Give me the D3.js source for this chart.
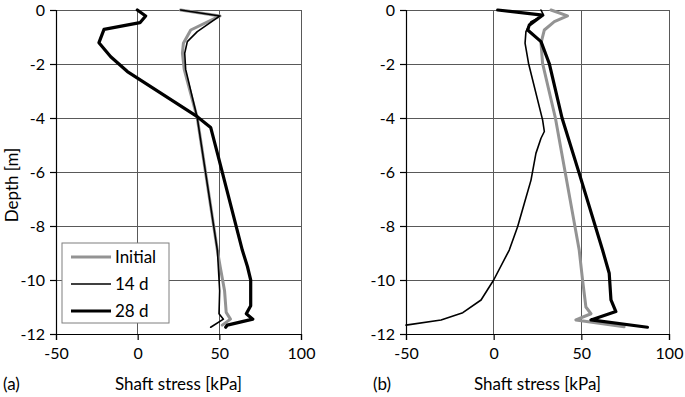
<!DOCTYPE html>
<html><head><meta charset="utf-8">
<script src="https://cdn.jsdelivr.net/npm/d3@7"></script>
<style>
html,body{margin:0;padding:0;background:#fff;}
text{font-family:Lato,"Open Sans",sans-serif;fill:#000;}
</style></head>
<body>
<svg id="chart" width="685" height="397"></svg>
<script>
// ---- data ----
const xTicks = [-50, 0, 50, 100];
const yTicks = [0, -2, -4, -6, -8, -10, -12];
const seriesNames = ["Initial", "14 d", "28 d"];

// Panel (a)
const aInitialStress = [26.3, 50.4, 32.5, 28.0, 27.4, 28.5, 36.5, 48.8, 50.5, 53.2, 54.2, 56.8, 51.8];
const aInitialDepth  = [0, -0.22, -0.74, -1.23, -1.6, -2.2, -4.0, -8.9, -9.5, -10.4, -11.2, -11.45, -11.67];
const a14Stress = [26.3, 50.4, 36.5, 30.4, 28.8, 29.4, 36.5, 48.8, 50.2, 49.8, 52.5, 44.7];
const a14Depth  = [0, -0.22, -0.8, -1.17, -1.6, -2.2, -4.0, -8.9, -10.4, -11.25, -11.45, -11.75];
const a28Stress = [-0.2, 4.9, 1.4, -20.6, -23.7, -16.5, -6.3, 36.5, 44.7, 48.8, 64.1, 67.2, 69.2, 69.2, 66.5, 70.5, 54.9, 53.9];
const a28Depth  = [0, -0.22, -0.47, -0.72, -1.21, -1.73, -2.28, -3.95, -4.35, -5.3, -8.9, -9.5, -10.0, -10.95, -11.25, -11.45, -11.67, -11.75];

// Panel (b)
const bInitialStress = [32.7, 42.1, 34.6, 28.9, 27.0, 27.9, 35.2, 48.8, 50.7, 52.6, 55.5, 46.9, 74.4];
const bInitialDepth  = [0, -0.22, -0.43, -0.74, -1.23, -1.98, -4.0, -8.9, -10.0, -11.0, -11.25, -11.48, -11.73];
const b14Stress = [27.0, 28.5, 21.3, 18.4, 17.9, 19.9, 27.9, 28.9, 27.0, 24.1, 21.3, 17.5, 13.7, 8.9, 0.0, -7.2, -17.6, -30.0, -50.0];
const b14Depth  = [0, -0.2, -0.43, -0.8, -1.23, -1.98, -4.07, -4.5, -4.75, -5.31, -6.3, -7.16, -8.02, -8.89, -10.0, -10.74, -11.21, -11.48, -11.67];
const b28Stress = [2.3, 27.9, 20.3, 19.4, 27.0, 31.7, 39.0, 48.8, 62.1, 65.9, 66.9, 69.7, 55.5, 87.7];
const b28Depth  = [0, -0.19, -0.56, -0.74, -1.17, -1.98, -4.0, -6.05, -8.89, -9.75, -10.74, -11.17, -11.48, -11.75];

// ---- layout ----
const svg = d3.select("#chart");
const yRange = [10, 334];
const panels = [
  {x0: 56, x1: 301, label: "(a)", labelX: 3,
   series: [[aInitialStress, aInitialDepth], [a14Stress, a14Depth], [a28Stress, a28Depth]], legend: true, yTitle: true},
  {x0: 406, x1: 669, label: "(b)", labelX: 373,
   series: [[bInitialStress, bInitialDepth], [b14Stress, b14Depth], [b28Stress, b28Depth]], legend: false, yTitle: false}
];
const styles = [
  {stroke: "#939393", width: 3},
  {stroke: "#000", width: 1.6},
  {stroke: "#000", width: 3.2}
];

panels.forEach(p => {
  const x = d3.scaleLinear().domain([-50, 100]).range([p.x0, p.x1]);
  const y = d3.scaleLinear().domain([0, -12]).range(yRange);
  const g = svg.append("g");

  // grid
  g.selectAll(".vg").data(xTicks.filter(d => d !== -50)).join("line")
    .attr("x1", d => x(d)).attr("x2", d => x(d)).attr("y1", y(0)).attr("y2", y(-12))
    .attr("stroke", "#595959").attr("stroke-width", 1).attr("shape-rendering", "crispEdges");
  g.selectAll(".hg").data(yTicks.filter(d => d !== -12)).join("line")
    .attr("x1", x(-50)).attr("x2", x(100)).attr("y1", d => y(d)).attr("y2", d => y(d))
    .attr("stroke", "#595959").attr("stroke-width", 1).attr("shape-rendering", "crispEdges");

  // axes
  const yAxis = d3.axisLeft(y).tickValues(yTicks).tickSize(6).tickPadding(5).tickFormat(d => d === 0 ? "0" : "-" + Math.abs(d));
  const xAxis = d3.axisBottom(x).tickValues(xTicks).tickSize(6).tickPadding(8).tickFormat(d => d < 0 ? "-" + Math.abs(d) : String(d));
  const ya = g.append("g").attr("transform", `translate(${x(-50)},0)`).call(yAxis);
  const xa = g.append("g").attr("transform", `translate(0,${y(-12)})`).call(xAxis);
  [ya, xa].forEach(a => {
    a.select(".domain").attr("stroke", "#000").attr("stroke-width", 1.2);
    a.selectAll(".tick line").attr("stroke", "#000").attr("stroke-width", 1.2);
    a.selectAll("text").attr("font-size", 16).attr("font-family", "Lato, sans-serif").attr("fill", "#000");
  });

  // series
  const line = d3.line().x(d => x(d[0])).y(d => y(d[1]));
  p.series.forEach((s, i) => {
    const pts = s[0].map((v, k) => [v, s[1][k]]);
    g.append("path").datum(pts).attr("d", line).attr("fill", "none")
      .attr("stroke", styles[i].stroke).attr("stroke-width", styles[i].width)
      .attr("stroke-linejoin", "round").attr("stroke-linecap", "round");
  });

  // titles
  g.append("text").attr("x", (p.x0 + p.x1) / 2).attr("y", 390).attr("text-anchor", "middle")
    .attr("font-size", 17).text("Shaft stress [kPa]");
  g.append("text").attr("x", p.labelX).attr("y", 390).attr("font-size", 17).text(p.label);
  if (p.yTitle) {
    g.append("text").attr("transform", "translate(18,185) rotate(-90)").attr("text-anchor", "middle")
      .attr("font-size", 17).text("Depth [m]");
  }

  // legend
  if (p.legend) {
    const lg = g.append("g");
    lg.append("rect").attr("x", 62).attr("y", 243).attr("width", 107).attr("height", 80)
      .attr("fill", "#fff").attr("stroke", "#7f7f7f").attr("stroke-width", 1);
    seriesNames.forEach((n, i) => {
      const yy = 257 + i * 27;
      lg.append("line").attr("x1", 71).attr("x2", 111).attr("y1", yy).attr("y2", yy)
        .attr("stroke", styles[i].stroke).attr("stroke-width", styles[i].width);
      lg.append("text").attr("x", 115).attr("y", yy + 6).attr("font-size", 17).text(n);
    });
  }
});
</script>
</body></html>
